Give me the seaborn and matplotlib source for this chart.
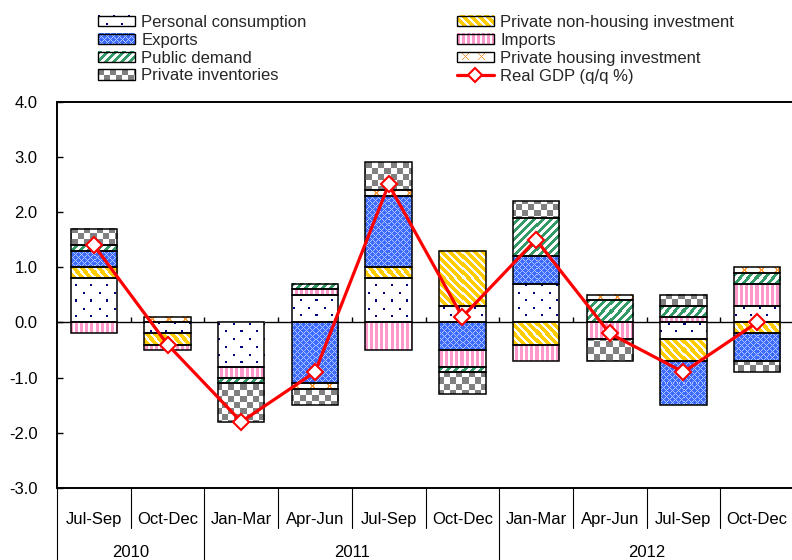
import numpy as np
import matplotlib
matplotlib.use("Agg")
import matplotlib.pyplot as plt
import matplotlib.colors as mcolors
from matplotlib.lines import Line2D
from matplotlib.patches import Rectangle
from matplotlib.legend_handler import HandlerBase
from matplotlib.image import BboxImage
from matplotlib.transforms import Bbox, TransformedBbox
import seaborn as sns

# ---------------- data ----------------
quarters = ["Jul-Sep", "Oct-Dec", "Jan-Mar", "Apr-Jun", "Jul-Sep",
            "Oct-Dec", "Jan-Mar", "Apr-Jun", "Jul-Sep", "Oct-Dec"]
years = ["2010", "2011", "2012"]
year_spans = [2, 4, 4]

personal = [0.8, -0.2, -0.8, 0.5, 0.8, 0.3, 0.7, 0.0, -0.3, 0.3]
nonhousing = [0.2, -0.2, 0.0, 0.0, 0.2, 1.0, -0.4, 0.0, -0.4, -0.2]
exports = [0.3, 0.0, 0.0, -1.1, 1.3, -0.5, 0.5, 0.0, -0.8, -0.5]
imports = [-0.2, -0.1, -0.2, 0.1, -0.5, -0.3, -0.3, -0.3, 0.1, 0.4]
public = [0.1, 0.0, -0.1, 0.1, 0.0, -0.1, 0.7, 0.4, 0.2, 0.2]
housing = [0.0, 0.1, 0.0, -0.1, 0.1, 0.0, 0.0, 0.1, 0.0, 0.1]
inventories = [0.3, 0.0, -0.7, -0.3, 0.5, -0.4, 0.3, -0.4, 0.2, -0.2]
gdp = [1.4, -0.4, -1.8, -0.9, 2.5, 0.1, 1.5, -0.2, -0.9, 0.0]

series_names = ["Personal consumption", "Private non-housing investment", "Exports",
                "Imports", "Public demand", "Private housing investment",
                "Private inventories"]
series_vals = [personal, nonhousing, exports, imports, public, housing, inventories]
gdp_label = "Real GDP (q/q %)"

# ---------------- pattern fills ----------------
C = {k: np.array(mcolors.to_rgb(v)) for k, v in dict(
    navy="#000080", blue="#3D6BFF", lightblue="#B3C8FF", pink="#FF99CC",
    green="#339966", yellow="#FFCC00", orange="#FF9933", gray="#808080",
    white="#FFFFFF").items()}


def make_pattern(name, px, py, vloc):
    """px, py: absolute pixel grids; vloc: row index inside the segment."""
    H, W = px.shape
    out = np.ones((H, W, 3))
    if name == "Personal consumption":
        m = ((px % 15 < 2) & (py % 15 < 2)) | (((px + 7) % 15 < 2) & ((py + 7) % 15 < 2))
        out[m] = C["navy"]
    elif name == "Exports":
        out[:] = C["blue"]
        m = ((px + py) % 6 == 0) | ((px - py) % 6 == 0)
        out[m] = C["lightblue"]
    elif name == "Imports":
        out[px % 5 < 3] = C["pink"]
    elif name == "Public demand":
        out[(px + py) % 8 < 4] = C["green"]
    elif name == "Private non-housing investment":
        out[:] = C["yellow"]
        out[(px - py) % 8 < 3] = C["white"]
    elif name == "Private housing investment":
        u = (px % 16) - 8
        c = (H - 1) / 2.0
        m = (np.abs(np.abs(u) - np.abs(vloc - c)) < 0.75) & (np.abs(u) <= 3)
        out[m] = C["orange"]
    elif name == "Private inventories":
        out[((px // 6) + (py // 6)) % 2 == 0] = C["gray"]
    return out


# ---------------- style ----------------
sns.set_theme(style="white")
plt.rcParams["font.family"] = ["Liberation Sans", "DejaVu Sans"]
plt.rcParams["font.size"] = 12

DPI = 100
FIG_W, FIG_H = 792, 560
fig = plt.figure(figsize=(FIG_W / DPI, FIG_H / DPI), dpi=DPI)
ax = fig.add_axes([57 / FIG_W, 1 - 488 / FIG_H, (794 - 57) / FIG_W, (488 - 101.7) / FIG_H])

x = np.arange(len(quarters))
width = 0.63
ax.set_xlim(-0.5, len(x) - 0.5)
ax.set_ylim(-3, 4)

pos_bottom = np.zeros(len(x))
neg_bottom = np.zeros(len(x))
segments = []
for name, vals in zip(series_names, series_vals):
    v = np.array(vals, dtype=float)
    bottoms = np.where(v >= 0, pos_bottom, neg_bottom)
    m = v != 0
    bars = ax.bar(x[m], v[m], width=width, bottom=bottoms[m], fill=False,
                  edgecolor="black", linewidth=1.1, zorder=3)
    for p in bars.patches:
        segments.append((name, p))
    pos_bottom = pos_bottom + np.where(v > 0, v, 0)
    neg_bottom = neg_bottom + np.where(v < 0, v, 0)

# fill every bar segment with its pattern, using the bar's own geometry
for name, p in segments:
    bx0, bx1 = p.get_x(), p.get_x() + p.get_width()
    by0, by1 = sorted([p.get_y(), p.get_y() + p.get_height()])
    (dx0, dy0), (dx1, dy1) = ax.transData.transform([(bx0, by0), (bx1, by1)])
    W = max(1, int(round(dx1 - dx0)))
    H = max(1, int(round(dy1 - dy0)))
    cols = int(round(dx0)) + np.arange(W)
    rows = int(round(FIG_H - dy1)) + np.arange(H)
    px, py = np.meshgrid(cols, rows)
    vloc = np.meshgrid(np.arange(W), np.arange(H))[1]
    img = make_pattern(name, px, py, vloc)
    ax.imshow(img, extent=(bx0, bx1, by0, by1), origin="upper", interpolation="nearest",
              aspect="auto", zorder=2)

# zero line and boundary ticks
ax.axhline(0, color="black", lw=1.0, zorder=1)
ax.vlines(x[:-1] + 0.5, 0, 0.09, color="black", lw=1.0, zorder=1)

# GDP line
sns.lineplot(x=x, y=gdp, ax=ax, color="#FF0000", lw=2.3, marker="D", markersize=8,
             markerfacecolor="white", markeredgecolor="#FF0000", markeredgewidth=1.5,
             zorder=5, legend=False)

ax.set_xlim(-0.5, len(x) - 0.5)
ax.set_ylim(-3, 4)
ax.set_yticks(np.arange(-3, 5, 1))
ax.set_yticklabels([f"{t:.1f}" for t in np.arange(-3, 5, 1)])
ax.tick_params(axis="y", direction="in", length=4, width=1, pad=14, labelsize=12,
               colors="black", left=True)
ax.set_xticks(x)
ax.set_xticklabels(quarters)
ax.tick_params(axis="x", length=0, pad=17, labelsize=12, colors="black")
ax.set_xlabel("")
ax.set_ylabel("")
for side in ["left", "top", "bottom"]:
    ax.spines[side].set_color("black")
    ax.spines[side].set_linewidth(1.4)
ax.spines["right"].set_visible(False)

# category table separators
trans = ax.get_xaxis_transform()
year_edges = np.concatenate([[0], np.cumsum(year_spans)]) - 0.5
for b in x[:-1] + 0.5:
    if b not in year_edges:
        ax.plot([b, b], [0, -0.104], transform=trans, color="black", lw=0.8, clip_on=False)
for b in year_edges:
    ax.plot([b, b], [0, -0.2], transform=trans, color="black", lw=0.8, clip_on=False)
for yr, a, b in zip(years, year_edges[:-1], year_edges[1:]):
    ax.text((a + b) / 2, -0.166, yr, transform=trans, ha="center", va="center",
            fontsize=12, color="black")


# ---------------- legends with pattern swatches ----------------
class PatternHandle:
    def __init__(self, name):
        self.name = name


class HandlerPattern(HandlerBase):
    def create_artists(self, legend, orig_handle, xdescent, ydescent, width, height,
                       fontsize, trans):
        bb = TransformedBbox(Bbox.from_bounds(-xdescent, -ydescent, width, height), trans)
        W = max(1, int(round(width * DPI / 72)))
        H = max(1, int(round(height * DPI / 72)))
        px, py = np.meshgrid(np.arange(W), np.arange(H))
        img = make_pattern(orig_handle.name, px, py, py)
        im = BboxImage(bb, interpolation="nearest")
        im.set_data(img)
        rect = Rectangle((-xdescent, -ydescent), width, height, fill=False,
                         edgecolor="black", linewidth=1.0, transform=trans)
        return [im, rect]


col1 = ["Personal consumption", "Exports", "Public demand", "Private inventories"]
col2 = ["Private non-housing investment", "Imports", "Private housing investment"]
gdp_handle = Line2D([0], [0], color="#FF0000", lw=2.3, marker="D", markersize=7,
                    markerfacecolor="white", markeredgecolor="#FF0000", markeredgewidth=1.5)

common = dict(loc="upper left", frameon=False, handlelength=2.2, handleheight=0.6,
              handletextpad=0.4, labelspacing=0.17, borderpad=0, borderaxespad=0,
              fontsize=12, handler_map={PatternHandle: HandlerPattern()})
leg1 = fig.legend([PatternHandle(n) for n in col1], col1,
                  bbox_to_anchor=(98 / FIG_W, 1 - 15 / FIG_H), **common)
leg2 = fig.legend([PatternHandle(n) for n in col2] + [gdp_handle], col2 + [gdp_label],
                  bbox_to_anchor=(457 / FIG_W, 1 - 15 / FIG_H), **common)

fig.savefig("out.png", dpi=DPI)
